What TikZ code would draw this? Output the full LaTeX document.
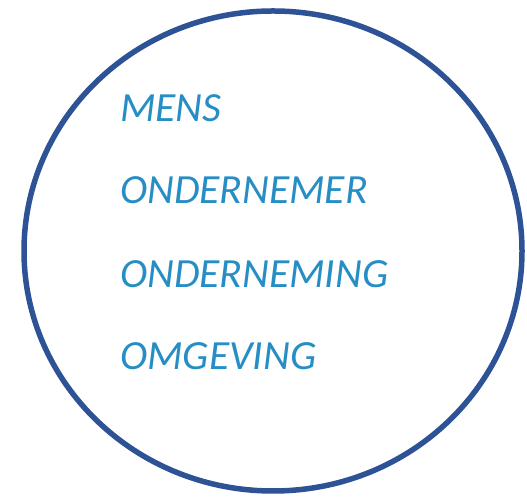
\documentclass[tikz,border=0pt]{standalone}
\usepackage{fontspec}
\setmainfont{Carlito}
\definecolor{ringblue}{RGB}{46,82,150}
\definecolor{wordblue}{RGB}{38,142,196}

\begin{document}
\begin{tikzpicture}[x=1pt,y=1pt,font=\itshape\fontsize{41.5}{50}\selectfont]
\tikzset{word/.style={anchor=base west,inner sep=0pt,text=wordblue}}
\useasboundingbox (0,0) rectangle (527,497);
\draw[ringblue,line width=5.5pt] (273,246) ellipse [x radius=249,y radius=240];
\node[word] (mens) at (120,375) {MENS};
\node[word] (ondernemer) at (120,293) {ONDERNEMER};
\node[word] (onderneming) at (120,209) {ONDERNEMING};
\node[word] (omgeving) at (120,127) {OMGEVING};
\end{tikzpicture}
\end{document}
